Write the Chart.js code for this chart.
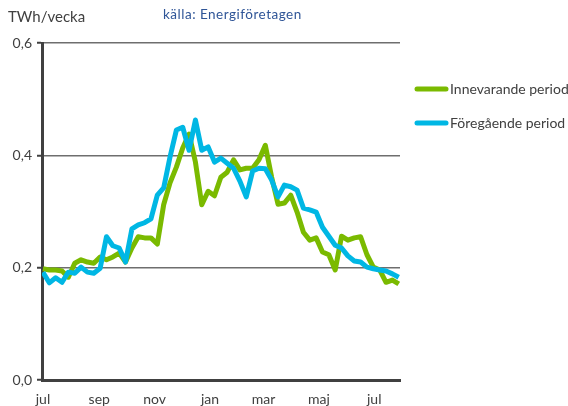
<!DOCTYPE html>
<html>
<head>
<meta charset="utf-8">
<script src="https://cdn.jsdelivr.net/npm/chart.js@4/dist/chart.umd.min.js"></script>
<style>
  html, body { margin: 0; padding: 0; background: #fff; }
  #wrap { width: 568px; height: 406px; position: relative; }
</style>
</head>
<body>
<div id="wrap"><canvas id="myChart"></canvas></div>
<script>
// weekly values, TWh/vecka, from early july to end of july the year after
const innevarande = [
  0.198, 0.196, 0.196, 0.194, 0.183, 0.208, 0.214, 0.210, 0.208, 0.219,
  0.214, 0.219, 0.226, 0.210, 0.235, 0.255, 0.253, 0.253, 0.242, 0.312,
  0.351, 0.379, 0.413, 0.438, 0.388, 0.312, 0.336, 0.328, 0.361, 0.370,
  0.392, 0.374, 0.377, 0.377, 0.392, 0.418, 0.361, 0.313, 0.315, 0.329,
  0.299, 0.263, 0.249, 0.253, 0.228, 0.223, 0.196, 0.256, 0.249, 0.253,
  0.255, 0.223, 0.201, 0.196, 0.174, 0.178, 0.171
];
const foregaende = [
  0.192, 0.173, 0.182, 0.174, 0.192, 0.190, 0.201, 0.192, 0.190, 0.199,
  0.255, 0.239, 0.235, 0.210, 0.269, 0.276, 0.280, 0.287, 0.329, 0.342,
  0.397, 0.445, 0.450, 0.409, 0.463, 0.409, 0.415, 0.388, 0.395, 0.386,
  0.377, 0.354, 0.326, 0.372, 0.377, 0.376, 0.356, 0.326, 0.347, 0.344,
  0.338, 0.306, 0.303, 0.299, 0.272, 0.256, 0.240, 0.235, 0.221, 0.212,
  0.210, 0.201, 0.198, 0.196, 0.194, 0.189, 0.183
];
// month starts, counted in weeks from 1 july
const monthPos = [0, 8.86, 17.57, 26.29, 34.71, 43.43, 52.14];
const monthNames = ['jul', 'sep', 'nov', 'jan', 'mar', 'maj', 'jul'];
const yTicks = [0, 0.2, 0.4, 0.6];
const seriesNames = ['Innevarande period', 'Föregående period'];

const green = 'rgb(122,186,0)';
const blue = 'rgb(0,183,228)';
const textCol = '#404040';

function toPoints(arr) {
  return arr.map((v, i) => ({ x: i, y: v }));
}

// titles and legend drawn by hand so the plot keeps its place
const extras = {
  id: 'extras',
  afterDraw(chart) {
    const c = chart.ctx;
    c.save();
    c.textBaseline = 'middle';
    c.textAlign = 'left';
    c.fillStyle = textCol;
    c.font = '15px Lato';
    c.fillText('TWh/vecka', 8, 17);
    c.fillStyle = '#2f5597';
    c.font = '13.5px Lato';
    c.letterSpacing = '0.5px';
    c.fillText('källa: Energiföretagen', 163, 15);
    c.letterSpacing = '0px';

    const cols = [green, blue];
    const ys = [89, 123];
    for (let i = 0; i < 2; i++) {
      c.strokeStyle = cols[i];
      c.lineWidth = 5;
      c.lineCap = 'round';
      c.beginPath();
      c.moveTo(417, ys[i]);
      c.lineTo(446, ys[i]);
      c.stroke();
      c.fillStyle = textCol;
      c.font = '14px Lato';
      c.fillText(seriesNames[i], 450, ys[i]);
    }
    c.restore();
  }
};

const ctx = document.getElementById('myChart').getContext('2d');
const myChart = new Chart(ctx, {
  type: 'line',
  data: {
    datasets: [
      {
        label: seriesNames[1],
        data: toPoints(foregaende),
        borderColor: blue,
        backgroundColor: blue,
        borderWidth: 5,
        borderJoinStyle: 'round',
        pointRadius: 0,
        tension: 0
      },
      {
        label: seriesNames[0],
        data: toPoints(innevarande),
        borderColor: green,
        backgroundColor: green,
        borderWidth: 5,
        borderJoinStyle: 'round',
        pointRadius: 0,
        tension: 0
      }
    ]
  },
  options: {
    responsive: true,
    maintainAspectRatio: false,
    animation: false,
    layout: { padding: { left: 0, top: 43, right: 168, bottom: 0 } },
    plugins: {
      legend: { display: false },
      tooltip: { enabled: false }
    },
    scales: {
      x: {
        type: 'linear',
        min: -0.15,
        max: 56.2,
        afterFit: (scale) => { scale.height = 26; },
        afterBuildTicks: (scale) => {
          scale.ticks = monthPos.map(v => ({ value: v }));
        },
        ticks: {
          autoSkip: false,
          maxRotation: 0,
          padding: 11,
          color: textCol,
          font: { family: 'Lato', size: 14 },
          callback: (value, index) => monthNames[index]
        },
        grid: { display: false, drawTicks: false },
        border: { color: '#404040', width: 3 }
      },
      y: {
        min: 0,
        max: 0.6,
        afterFit: (scale) => { scale.width = 42; },
        afterBuildTicks: (scale) => {
          scale.ticks = yTicks.map(v => ({ value: v }));
        },
        ticks: {
          padding: 5,
          color: textCol,
          font: { family: 'Lato', size: 14 },
          callback: (value) => value.toFixed(1).replace('.', ',')
        },
        grid: {
          color: '#6e6e6e',
          lineWidth: 1.5,
          tickLength: 5,
          tickColor: '#404040',
          tickWidth: 2
        },
        border: { color: '#404040', width: 3 }
      }
    }
  },
  plugins: [extras]
});
</script>
</body>
</html>
